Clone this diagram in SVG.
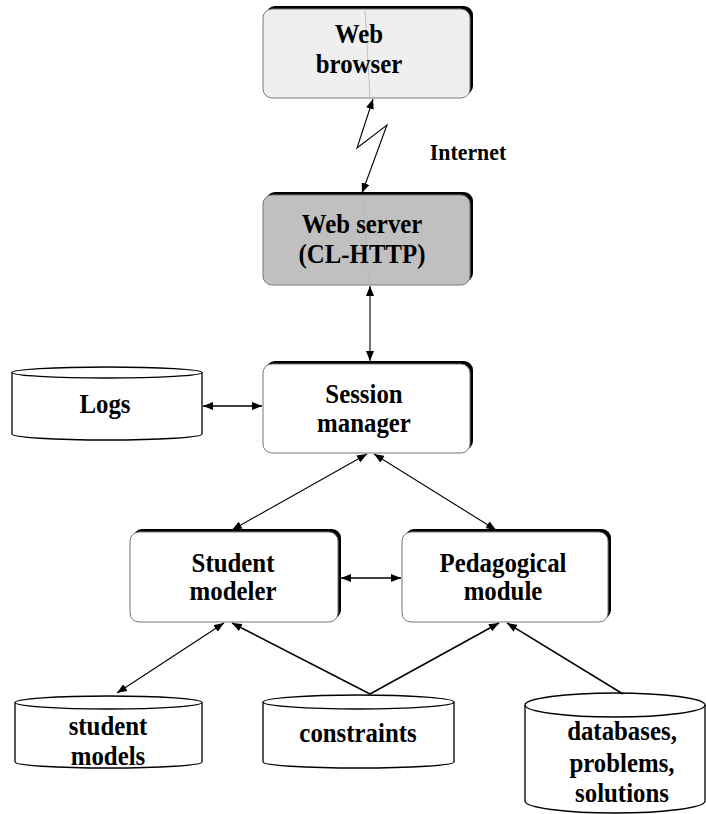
<svg xmlns="http://www.w3.org/2000/svg" width="706" height="814" viewBox="0 0 706 814">
<style>
  .shadow { fill: #000; }
  .box { stroke: #777; stroke-width: 1; }
  .white { fill: #fff; }
  .light { fill: #efefef; }
  .grey { fill: #c0c0c0; }
  .lbl { font-family: "Liberation Serif", "Times New Roman", serif; font-weight: bold; font-size: 27px; fill: #000; text-anchor: middle; }
  .sm { font-size: 23px; }
  .cyl { fill: #fff; stroke: #000; stroke-width: 1.3; }
  .con { fill: none; stroke: #000; stroke-width: 1.1; }
  .thick { stroke-width: 1.5; }
  .artifact { stroke: #b8b8b8; stroke-width: 0.8; fill: none; }
</style>
<defs>
  <marker id="ah" viewBox="0 0 10 8" refX="10" refY="4" markerWidth="10" markerHeight="8" markerUnits="userSpaceOnUse" orient="auto-start-reverse">
    <path d="M0,0 L10,4 L0,8 Z" fill="#000"/>
  </marker>
</defs>

<g id="web-browser">
  <rect class="shadow" x="266" y="6" width="207" height="89" rx="9"/>
  <rect class="box light" x="263" y="9" width="207" height="89" rx="9"/>
  <path class="artifact" d="M365,9 L370,98"/>
  <text class="lbl" transform="translate(359,43) scale(0.92,1)">Web</text>
  <text class="lbl" transform="translate(359,73) scale(0.92,1)">browser</text>
</g>

<g id="internet-label">
  <text class="lbl sm" transform="translate(468,160) scale(0.95,1)">Internet</text>
</g>

<g id="web-server">
  <rect class="shadow" x="266" y="192" width="207" height="90" rx="9"/>
  <rect class="box grey" x="263" y="195" width="207" height="90" rx="9"/>
  <path class="artifact" d="M363,195 L369,285"/>
  <text class="lbl" transform="translate(362,233) scale(0.92,1)">Web server</text>
  <text class="lbl" transform="translate(362,263) scale(0.92,1)">(CL-HTTP)</text>
</g>

<g id="session-manager">
  <rect class="shadow" x="266" y="361" width="207" height="89" rx="9"/>
  <rect class="box white" x="263" y="364" width="207" height="89" rx="9"/>
  <text class="lbl" transform="translate(364,403) scale(0.92,1)">Session</text>
  <text class="lbl" transform="translate(364,432) scale(0.92,1)">manager</text>
</g>

<g id="logs">
  <path class="cyl" d="M12,372.5 L12,434 A95,6 0 0 0 202,434 L202,372.5"/>
  <ellipse class="cyl" cx="107" cy="372.5" rx="95" ry="5.5"/>
  <text class="lbl" transform="translate(105,413) scale(0.92,1)">Logs</text>
</g>

<g id="student-modeler">
  <rect class="shadow" x="133" y="529" width="208" height="90" rx="9"/>
  <rect class="box white" x="130" y="532" width="208" height="90" rx="9"/>
  <text class="lbl" transform="translate(233,572) scale(0.92,1)">Student</text>
  <text class="lbl" transform="translate(233,600) scale(0.92,1)">modeler</text>
</g>

<g id="pedagogical-module">
  <rect class="shadow" x="405" y="529" width="206" height="90" rx="9"/>
  <rect class="box white" x="402" y="532" width="206" height="90" rx="9"/>
  <text class="lbl" transform="translate(503,572) scale(0.92,1)">Pedagogical</text>
  <text class="lbl" transform="translate(503,600) scale(0.92,1)">module</text>
</g>

<g id="student-models">
  <path class="cyl" d="M15,702.5 L15,762 A93.5,6 0 0 0 202,762 L202,702.5"/>
  <ellipse class="cyl" cx="108.5" cy="702.5" rx="93.5" ry="6.5"/>
  <text class="lbl" transform="translate(108,735) scale(0.92,1)">student</text>
  <text class="lbl" transform="translate(108,765) scale(0.92,1)">models</text>
</g>

<g id="constraints">
  <path class="cyl" d="M263,702 L263,762 A95.5,6 0 0 0 454,762 L454,702"/>
  <ellipse class="cyl" cx="358.5" cy="702" rx="95.5" ry="7"/>
  <text class="lbl" transform="translate(358,742) scale(0.92,1)">constraints</text>
</g>

<g id="databases">
  <path class="cyl" d="M525,705 L525,801 A90,12 0 0 0 705,801 L705,705"/>
  <ellipse class="cyl" cx="615" cy="705" rx="90" ry="12"/>
  <text class="lbl" transform="translate(622,740) scale(0.92,1)">databases,</text>
  <text class="lbl" transform="translate(622,772) scale(0.92,1)">problems,</text>
  <text class="lbl" transform="translate(622,802) scale(0.92,1)">solutions</text>
</g>

<g id="connectors">
  <polyline class="con" points="373,99 357,148 387,125 362,193" marker-start="url(#ah)" marker-end="url(#ah)"/>
  <line class="con" x1="370" y1="286" x2="370" y2="361" marker-start="url(#ah)" marker-end="url(#ah)"/>
  <line class="con thick" x1="203" y1="406" x2="262" y2="406" marker-start="url(#ah)" marker-end="url(#ah)"/>
  <line class="con" x1="367" y1="454" x2="232" y2="530" marker-start="url(#ah)" marker-end="url(#ah)"/>
  <line class="con" x1="374" y1="454" x2="496" y2="530" marker-start="url(#ah)" marker-end="url(#ah)"/>
  <line class="con thick" x1="341" y1="578" x2="401" y2="578" marker-start="url(#ah)" marker-end="url(#ah)"/>
  <line class="con" x1="117" y1="693" x2="224" y2="623" marker-start="url(#ah)" marker-end="url(#ah)"/>
  <line class="con thick" x1="370" y1="694" x2="232" y2="623" marker-end="url(#ah)"/>
  <line class="con thick" x1="370" y1="694" x2="499" y2="623" marker-end="url(#ah)"/>
  <line class="con thick" x1="623" y1="694" x2="507" y2="623" marker-end="url(#ah)"/>
</g>
</svg>
